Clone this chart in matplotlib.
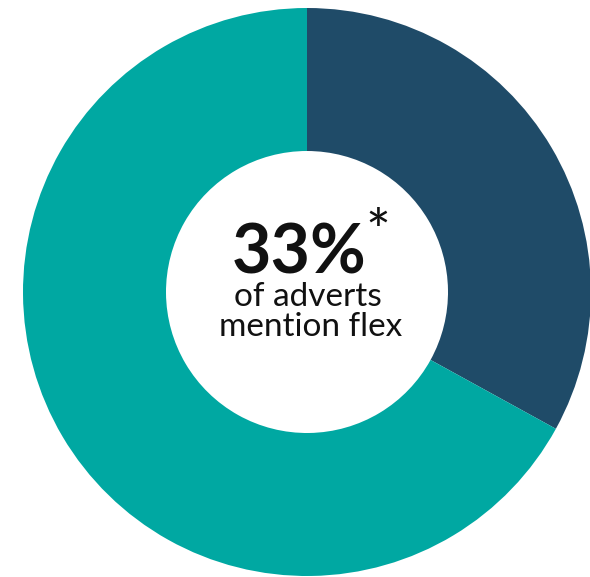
import matplotlib.pyplot as plt

# %% data
labels = ["mention flex", "no mention"]
shares = [33, 67]
colours = ["#1f4b68", "#00a8a2"]

# %% figure in pixel coordinates
fig = plt.figure(figsize=(5.9, 5.77), dpi=100)
ax = fig.add_axes([0, 0, 1, 1])
ax.set_aspect("equal")
ax.axis("off")

ax.pie(shares, colors=colours, startangle=90, counterclock=False,
       center=(307, 285), radius=284,
       wedgeprops=dict(width=284 - 141, linewidth=0))
ax.set_xlim(0, 590)
ax.set_ylim(0, 577)

# %% centre text
txt = "#111111"
ax.text(299, 304, f"{shares[0]}%", ha="center", va="baseline",
        fontsize=49, fontweight="bold", family="Lato", color=txt)
ax.text(378, 326, "*", ha="center", va="baseline",
        fontsize=42, family="Lato", color=txt)
ax.text(308, 271, "of adverts", ha="center", va="baseline",
        fontsize=24, family="Lato", color=txt)
ax.text(311, 241, labels[0], ha="center", va="baseline",
        fontsize=24, family="Lato", color=txt)

fig.savefig("out.png", dpi=100)
